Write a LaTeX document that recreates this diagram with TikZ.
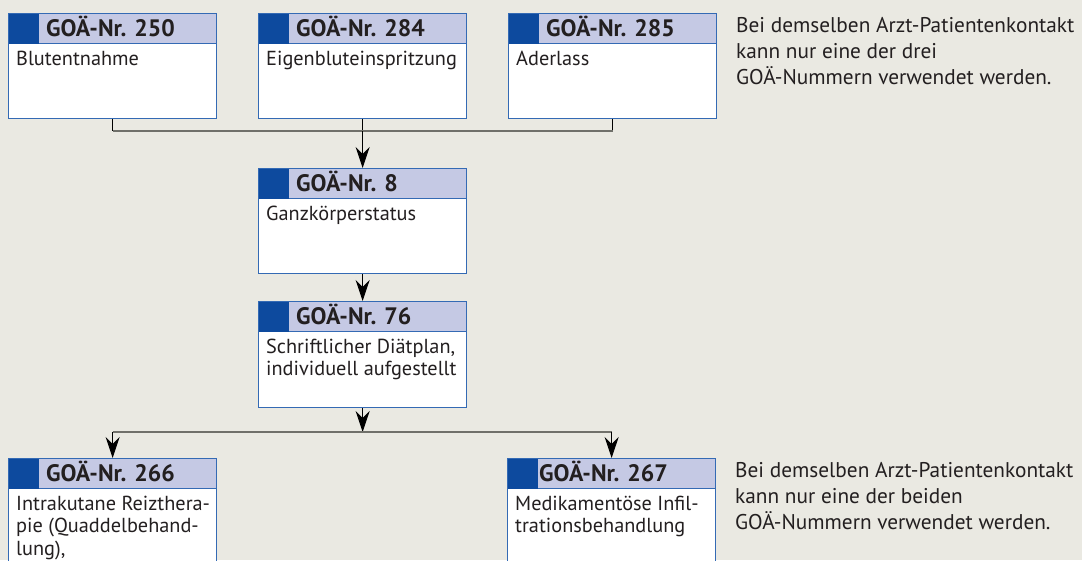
\documentclass[tikz,border=0pt]{standalone}
\usepackage{fontspec}
\setmainfont{PT Sans}
\usetikzlibrary{arrows.meta}
\definecolor{bg}{RGB}{234,233,226}
\definecolor{hdrfill}{RGB}{197,201,228}
\definecolor{sqblue}{RGB}{13,74,158}
\definecolor{bordblue}{RGB}{52,106,180}
\definecolor{linegray}{RGB}{112,112,106}
\definecolor{txt}{RGB}{35,31,32}
\newcommand\textlines[1]{\begin{tabular}[t]{@{}l@{}}#1\end{tabular}}
\tikzset{
  boxbody/.style={draw=bordblue, line width=1.3pt, fill=white, minimum width=208pt, inner sep=0pt, anchor=north west},
  hdrband/.style={draw=bordblue, line width=1.3pt, fill=hdrfill, minimum width=208pt, minimum height=30pt, inner sep=0pt, anchor=north west},
  bluesq/.style={fill=sqblue, minimum width=30pt, minimum height=30pt, inner sep=0pt, anchor=north west},
  hdrtext/.style={font=\fontsize{23.8}{26}\bfseries\selectfont, text=txt, inner sep=0pt, anchor=base west},
  bodytext/.style={font=\fontsize{20.3}{22.3}\selectfont, text=txt, inner sep=0pt, anchor=base west},
  notetext/.style={font=\fontsize{21.3}{26.3}\selectfont, text=txt, inner sep=0pt, anchor=base west},
  hline/.style={draw=linegray, line width=1.6pt},
  vline/.style={draw=black, line width=0.9pt},
  arr/.style={draw=black, line width=0.9pt, -{Stealth[length=21pt, width=14pt, inset=7pt]}},
}
% #1 name, #2 left, #3 top, #4 height, #5 header offset, #6 header, #7 body
\newcommand\goabox[7]{%
  \node[boxbody, minimum height=#4pt] (#1) at (#2,#3) {};
  \node[hdrband] (#1h) at (#1.north west) {};
  \node[bluesq] (#1s) at ([shift={(0.65pt,-0.65pt)}]#1.north west) {};
  \node[hdrtext] (#1t) at ([shift={(#5pt,-23pt)}]#1.north west) {#6};
  \node[bodytext] (#1b) at ([shift={(8pt,-52.5pt)}]#1.north west) {\textlines{#7}};
}
\begin{document}
\begin{tikzpicture}[x=1pt, y=-1pt]
\fill[bg] (0,0) rectangle (1082,560);
\useasboundingbox (0,0) rectangle (1082,560);

\goabox{b250}{8}{13}{105}{38}{GOÄ-Nr. 250}{Blutentnahme}
\goabox{b284}{258}{13}{105}{38}{GOÄ-Nr. 284}{Eigenbluteinspritzung}
\goabox{b285}{508}{13}{105}{38}{GOÄ-Nr. 285}{Aderlass}
\goabox{b8}{258}{168}{105}{38}{GOÄ-Nr. 8}{Ganzkörperstatus}
\goabox{b76}{258}{301}{106}{38}{GOÄ-Nr. 76}{Schriftlicher Diätplan,\\individuell aufgestellt}
\goabox{b266}{8}{458}{140}{38}{GOÄ-Nr. 266}{Intrakutane Reizthera-\\pie (Quaddelbehand-\\lung),}
\goabox{b267}{507}{458}{140}{32}{GOÄ-Nr. 267}{Medikamentöse Infil-\\trationsbehandlung}

\node[notetext] (n1) at (736,32) {\textlines{Bei demselben Arzt-Patientenkontakt\\kann nur eine der drei\\GOÄ-Nummern verwendet werden.}};
\node[notetext] (n2) at (735,477) {\textlines{Bei demselben Arzt-Patientenkontakt\\kann nur eine der beiden\\GOÄ-Nummern verwendet werden.}};

% top junction
\coordinate (j1) at (b284.south |- 0,131);
\coordinate (j1l) at (b250.south |- 0,131);
\coordinate (j1r) at (b285.south |- 0,131);
\draw[vline] (b250.south) -- (j1l);
\draw[vline] (b284.south) -- (j1);
\draw[vline] (b285.south) -- (j1r);
\draw[hline] (j1l) -- (j1r);
\draw[arr] (j1) -- (b8.north);
\draw[arr] (b8.south) -- (b76.north);

% bottom junction
\coordinate (j2) at (b76.south |- 0,432);
\coordinate (j2l) at (b266.north |- 0,432);
\coordinate (j2r) at (b267.north |- 0,432);
\draw[arr] (b76.south) -- (j2);
\draw[hline] (j2l) -- (j2r);
\draw[arr] (j2l) -- (b266.north);
\draw[arr] (j2r) -- (b267.north);
\end{tikzpicture}
\end{document}
